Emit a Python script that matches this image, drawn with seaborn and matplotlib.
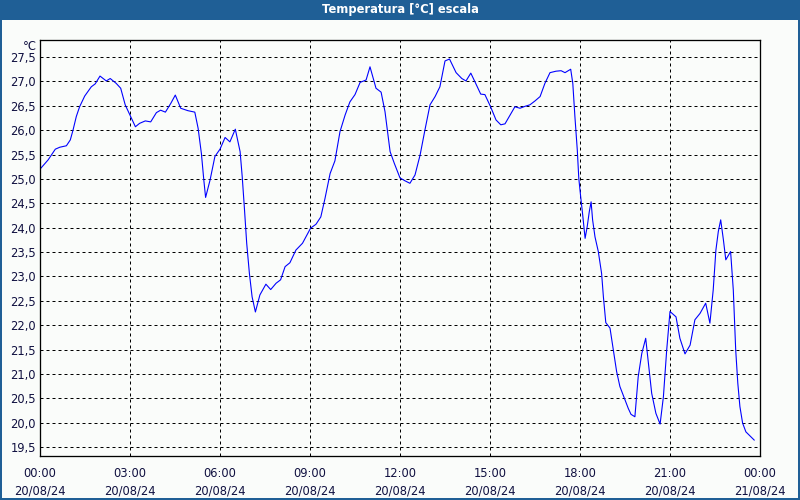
import numpy as np
import pandas as pd
import matplotlib
matplotlib.use("Agg")
import matplotlib.pyplot as plt
import matplotlib.dates as mdates
from matplotlib.patches import Rectangle
import seaborn as sns

# ---- data ----
hours = [0.00, 0.27, 0.51, 0.66, 0.88, 1.01, 1.10, 1.21, 1.32, 1.49, 1.71, 1.84,
         2.00, 2.21, 2.34, 2.54, 2.69, 2.84, 3.00, 3.18, 3.32, 3.51, 3.69, 3.88,
         4.02, 4.18, 4.36, 4.51, 4.69, 4.93, 5.16, 5.27, 5.38, 5.46, 5.52, 5.67,
         5.83, 6.00, 6.17, 6.33, 6.51, 6.67, 6.74, 6.81, 6.89, 6.98, 7.07, 7.18,
         7.33, 7.53, 7.69, 7.87, 8.02, 8.17, 8.33, 8.53, 8.75, 9.02, 9.20, 9.36,
         9.50, 9.67, 9.83, 10.00, 10.17, 10.33, 10.50, 10.67, 10.87, 11.00, 11.20,
         11.37, 11.50, 11.67, 11.81, 12.00, 12.17, 12.33, 12.50, 12.67, 12.83,
         13.00, 13.17, 13.33, 13.50, 13.65, 13.87, 14.06, 14.20, 14.36, 14.50,
         14.69, 14.83, 15.02, 15.20, 15.36, 15.50, 15.67, 15.83, 16.00, 16.17,
         16.33, 16.50, 16.67, 16.83, 17.00, 17.20, 17.37, 17.50, 17.69, 17.76,
         17.83, 17.91, 17.96, 18.02, 18.09, 18.17, 18.24, 18.31, 18.37, 18.42,
         18.50, 18.61, 18.72, 18.78, 18.86, 19.00, 19.11, 19.22, 19.33, 19.48,
         19.61, 19.70, 19.83, 19.94, 20.06, 20.19, 20.28, 20.39, 20.53, 20.67,
         20.78, 20.89, 21.00, 21.20, 21.33, 21.50, 21.67, 21.83, 22.00, 22.19,
         22.33, 22.44, 22.53, 22.61, 22.69, 22.78, 22.86, 23.02, 23.11, 23.19,
         23.26, 23.33, 23.42, 23.53, 23.81]
temps = [25.20, 25.39, 25.61, 25.65, 25.68, 25.80, 26.00, 26.28, 26.48, 26.70, 26.89, 26.95,
         27.11, 27.01, 27.06, 26.96, 26.86, 26.52, 26.31, 26.07, 26.14, 26.19, 26.17, 26.36,
         26.41, 26.37, 26.55, 26.72, 26.45, 26.40, 26.37, 26.04, 25.52, 24.98, 24.62, 24.98,
         25.46, 25.61, 25.85, 25.76, 26.02, 25.56, 25.05, 24.43, 23.68, 23.06, 22.58, 22.27,
         22.62, 22.84, 22.73, 22.86, 22.93, 23.20, 23.28, 23.54, 23.68, 23.99, 24.07, 24.22,
         24.60, 25.11, 25.37, 25.97, 26.31, 26.58, 26.73, 26.98, 27.03, 27.30, 26.86,
         26.78, 26.38, 25.56, 25.32, 25.02, 24.96, 24.91, 25.08, 25.49, 26.00,
         26.52, 26.69, 26.89, 27.42, 27.46, 27.18, 27.06, 27.01, 27.17, 26.99,
         26.74, 26.73, 26.48, 26.21, 26.11, 26.13, 26.31, 26.48, 26.45, 26.49,
         26.52, 26.60, 26.69, 26.96, 27.18, 27.21, 27.22, 27.18, 27.25, 26.96,
         26.28, 25.59, 25.01, 24.65, 24.26, 23.78, 24.02, 24.33, 24.53, 24.16,
         23.81, 23.51, 23.06, 22.58, 22.05, 21.94, 21.49, 21.05, 20.74, 20.50,
         20.29, 20.17, 20.12, 20.94, 21.42, 21.73, 21.22, 20.60, 20.19, 19.97,
         20.53, 21.49, 22.28, 22.17, 21.73, 21.41, 21.59, 22.11, 22.24, 22.45,
         22.04, 22.72, 23.54, 23.92, 24.16, 23.75, 23.34, 23.51, 22.72, 21.49,
         20.81, 20.33, 19.99, 19.81, 19.64]
start_time = "2024-08-20 00:00"
end_time = "2024-08-21 00:00"
y_ticks = [19.5, 20.0, 20.5, 21.0, 21.5, 22.0, 22.5, 23.0, 23.5, 24.0, 24.5,
           25.0, 25.5, 26.0, 26.5, 27.0, 27.5]
title = "Temperatura [°C] escala"
unit = "°C"

df = pd.DataFrame({
    "time": pd.Timestamp(start_time) + pd.to_timedelta(hours, unit="h"),
    "temp": temps,
})

sns.set_style("white")
plt.rcParams["font.family"] = ["DejaVu Sans"]

bg = "#fafcfa"
frame_blue = "#1f5f96"
text_col = "#101040"
px = 72 / 100  # one pixel in points

fig = plt.figure(figsize=(8, 5), dpi=100, facecolor=bg)
ax = fig.add_axes([40 / 800, 44 / 500, 720 / 800, 416 / 500])
ax.set_facecolor(bg)

sns.lineplot(data=df, x="time", y="temp", ax=ax, color="#0000ff", linewidth=1.1 * px)

ax.set_xlim(pd.Timestamp(start_time), pd.Timestamp(end_time))
ax.set_ylim(19.315, 27.85)
ax.set_yticks(y_ticks)
ax.set_yticklabels([f"{v:.1f}".replace(".", ",") for v in y_ticks])

ax.xaxis.set_major_locator(mdates.HourLocator(byhour=range(0, 24, 3)))
ax.xaxis.set_minor_locator(mdates.HourLocator())
ax.xaxis.set_major_formatter(mdates.DateFormatter("%H:%M\n%d/%m/%y"))

ax.grid(True, which="major", color="black", linestyle=(0, (3, 3)), linewidth=px)
ax.tick_params(axis="y", length=0, pad=3, labelsize=8.3, labelcolor=text_col)
ax.tick_params(axis="x", which="both", length=4 * px, width=px, color="black",
               direction="out", pad=5, labelsize=8.3, labelcolor=text_col)
for lbl in ax.get_xticklabels():
    lbl.set_horizontalalignment("center")
    lbl.set_linespacing(1.5)
ax.set_xlabel("")
ax.set_ylabel("")
for s in ax.spines.values():
    s.set_visible(True)
    s.set_color("black")
    s.set_linewidth(1.3 * px)

fig.text(37 / 800, 1 - 46 / 500, unit, ha="right", va="center", fontsize=8.3, color=text_col)

# title bar and window frame
fig.patches.append(Rectangle((0, 1 - 20 / 500), 1, 20 / 500, transform=fig.transFigure,
                             facecolor=frame_blue, edgecolor="none", zorder=-1))
fig.patches.append(Rectangle((0, 0), 2 / 800, 1, transform=fig.transFigure,
                             facecolor=frame_blue, edgecolor="none"))
fig.patches.append(Rectangle((1 - 2 / 800, 0), 2 / 800, 1, transform=fig.transFigure,
                             facecolor=frame_blue, edgecolor="none"))
fig.patches.append(Rectangle((0, 0), 1, 2 / 500, transform=fig.transFigure,
                             facecolor=frame_blue, edgecolor="none"))
fig.text(0.5, 1 - 10 / 500, title, ha="center", va="center", fontsize=8.3,
         fontweight="bold", color="white")

fig.savefig("out.png", dpi=100, facecolor=bg)
